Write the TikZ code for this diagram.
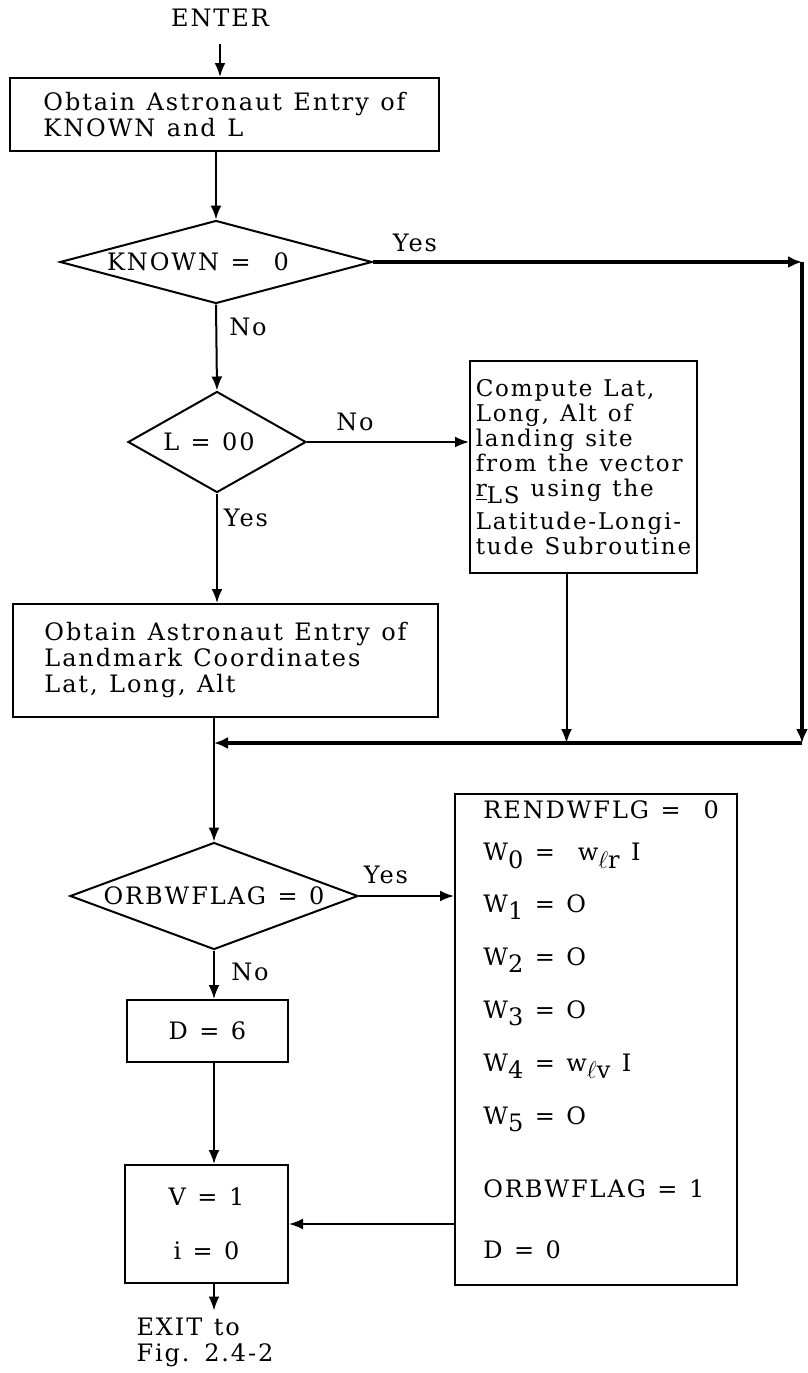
\documentclass[tikz,border=0pt]{standalone}
\usepackage{fontspec}
\setmainfont{DejaVu Serif}[LetterSpace=8, WordSpace=1.2]
\usetikzlibrary{shapes.geometric,arrows.meta}
\newcommand{\lowr}[1]{\raisebox{-0.6ex}{#1}}

\begin{document}
\begin{tikzpicture}[x=0.5pt, y=-0.5pt,
  every node/.style={font=\fontsize{12}{13}\selectfont},
  procbox/.style={draw, rectangle, line width=1pt, align=left, inner sep=2pt},
  decide/.style={draw, diamond, line width=1pt, inner sep=0pt},
  wline/.style={anchor=west, inner sep=0pt},
  flow/.style={line width=1pt, -{Latex[length=7pt,width=5.5pt]}},
  loopflow/.style={line width=1.6pt, -{Latex[length=7pt,width=6pt]}}]
\useasboundingbox (0,0) rectangle (808,1373);

% entry and the two tests
\node (enter) at (220,18) {ENTER};
\node[procbox, minimum width=214.5pt, minimum height=36.5pt] (known) at (224.5,114.5) {Obtain Astronaut Entry of\\KNOWN and L};
\node[decide, minimum width=156pt, minimum height=41.5pt, aspect=3.8] (dknown) at (216,262) {KNOWN =\ \ 0\hspace*{18pt}};
\node[decide, minimum width=89pt, minimum height=50.5pt, aspect=1.8] (dl) at (217,442) {L = 00\hspace*{8pt}};
\node[procbox, minimum width=113.5pt, minimum height=106pt, font=\fontsize{11.5}{12.5}\selectfont] (latlong) at (583.5,467) {Compute Lat,\\Long, Alt of\\landing site\\from the vector\\\underline{r}\lowr{LS} using the\\[4pt]Latitude-Longi-\\tude Subroutine};
\node[procbox, minimum width=212.5pt, minimum height=56.5pt] (landmark) at (225.5,660.5) {Obtain Astronaut Entry of\\Landmark Coordinates\\Lat, Long, Alt};

\node (yes1) at (415,243) {Yes};
\node (no1) at (248,327) {No};
\node (no2) at (355,422) {No};
\node (yes2) at (246,518) {Yes};

% weighting setup
\node[decide, minimum width=144pt, minimum height=53.5pt, aspect=2.7] (dorb) at (214,896) {ORBWFLAG = 0};
\node[procbox, minimum width=80.5pt, minimum height=31pt, align=center] (dsix) at (207.5,1031) {D = 6};
\node[procbox, minimum width=81.5pt, minimum height=59pt, align=center] (vset) at (206.5,1224) {V = 1\\[14pt]i = 0};
\node[procbox, minimum width=141pt, minimum height=245.5pt] (wset) at (596,1039.5) {};
\node[wline] (wrend) at (483,810) {RENDWFLG =\ \ 0};
\node[wline] (w0) at (483,856) {W\lowr{0} =\ \ w\lowr{$\ell$r} I};
\node[wline] (w1) at (483,907) {W\lowr{1} = O};
\node[wline] (w2) at (483,960) {W\lowr{2} = O};
\node[wline] (w3) at (483,1013) {W\lowr{3} = O};
\node[wline] (w4) at (483,1066) {W\lowr{4} = w\lowr{$\ell$v} I};
\node[wline] (w5) at (483,1119) {W\lowr{5} = O};
\node[wline] (worb) at (483,1189) {ORBWFLAG = 1};
\node[wline] (wd) at (483,1250) {D = 0};
\node[align=left] (exit) at (205,1342) {EXIT to\\Fig. 2.4-2};

\node (yes3) at (386,875) {Yes};
\node (no3) at (250,972) {No};

\coordinate (tr) at (802,262);
\coordinate (br) at (802,743);
\coordinate (mg) at (dorb.north |- br);

% connectors
\draw[flow, shorten <=5pt] (enter.south) -- (enter.south |- known.north);
\draw[flow] (dknown.north |- known.south) -- (dknown.north);
\draw[flow] (dknown.south) -- (dl.north);
\draw[flow] (dl.east) -- (dl.east -| latlong.west);
\draw[flow] (dl.south) -- (dl.south |- landmark.north);
\draw[loopflow] (dknown.east) -- (tr);
\draw[loopflow] (tr) -- (br);
\draw[loopflow] (br) -- (mg);
\draw[flow] ([xshift=-8.5pt]latlong.south) -- ([xshift=-8.5pt]latlong.south |- br);
\draw[flow] (dorb.north |- landmark.south) -- (dorb.north);
\draw[flow] (dorb.east) -- (dorb.east -| wset.west);
\draw[flow] (dorb.south) -- (dorb.south |- dsix.north);
\draw[flow] (dorb.south |- dsix.south) -- (dorb.south |- vset.north);
\draw[flow] (wset.west |- vset.east) -- (vset.east);
\draw[flow] (dorb.south |- vset.south) -- (dorb.south |- exit.north);
\end{tikzpicture}
\end{document}
